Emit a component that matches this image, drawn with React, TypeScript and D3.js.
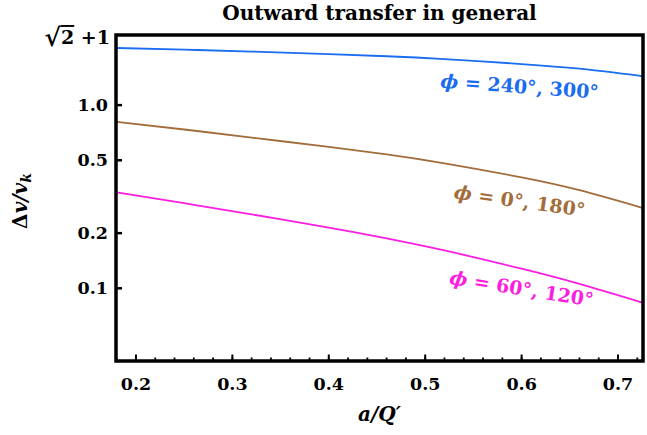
import { useEffect, useRef } from 'react'
import * as d3 from 'd3'

const W = 647
const H = 435
const M = { top: 35, right: 4, bottom: 74, left: 116 }

// a/Q' sample points
const xs = [0.18, 0.25, 0.32, 0.4, 0.46, 0.52, 0.6, 0.66, 0.725]
// Δv/v_k for each phase pair
const blueVals = [2.05, 2.008, 1.96, 1.9, 1.848, 1.782, 1.676, 1.58, 1.44]
const brownVals = [0.81, 0.736, 0.665, 0.591, 0.538, 0.481, 0.403, 0.343, 0.275]
const pinkVals = [0.334, 0.2914, 0.2533, 0.2146, 0.1874, 0.1609, 0.1279, 0.1056, 0.0836]

const xTicks = [0.2, 0.3, 0.4, 0.5, 0.6, 0.7]
const yTicks = [0.1, 0.2, 0.5, 1.0]
const yTop = Math.SQRT2 + 1

const series = [
  { vals: blueVals, col: '#1a6cf0', label: 'ϕ = 240°, 300°', lx: 0.598, ly: 1.27, rot: 4 },
  { vals: brownVals, col: '#a26d3b', label: 'ϕ = 0°, 180°', lx: 0.598, ly: 0.301, rot: 8 },
  { vals: pinkVals, col: '#fb1ee0', label: 'ϕ = 60°, 120°', lx: 0.6, ly: 0.1, rot: 9 },
]

const FONT = '"DejaVu Serif", serif'

export default function App() {
  const svgRef = useRef<SVGSVGElement | null>(null)

  useEffect(() => {
    if (!svgRef.current) return
    const svg = d3.select(svgRef.current)
    svg.selectAll('*').remove()

    const iw = W - M.left - M.right
    const ih = H - M.top - M.bottom
    const g = svg.append('g').attr('transform', `translate(${M.left},${M.top})`)

    const x = d3.scaleLinear().domain([0.1793, 0.7259]).range([0, iw])
    const y = d3.scaleLog().domain([0.0401, yTop]).range([ih, 0])

    // curves
    const line = d3.line<number>()
      .x((_, i) => x(xs[i]))
      .y(d => y(d))
      .curve(d3.curveNatural)

    series.forEach(s => {
      g.append('path').datum(s.vals).attr('d', line)
        .attr('fill', 'none').attr('stroke', s.col).attr('stroke-width', 1.8)
      g.append('text')
        .attr('transform', `translate(${x(s.lx)},${y(s.ly)}) rotate(${s.rot})`)
        .attr('text-anchor', 'middle').attr('dominant-baseline', 'central')
        .attr('fill', s.col).attr('font-family', FONT).attr('font-weight', 700)
        .attr('font-size', 19)
        .call(t => {
          t.append('tspan').attr('font-style', 'italic').text(s.label.slice(0, 1))
          t.append('tspan').text(s.label.slice(1))
        })
    })

    // x ticks (inward)
    const minor = d3.range(0.18, 0.7259, 0.02)
    g.selectAll('.xm').data(minor).join('line')
      .attr('x1', d => x(d)).attr('x2', d => x(d))
      .attr('y1', ih).attr('y2', ih - 3.5)
      .attr('stroke', '#000').attr('stroke-width', 1.8)
    g.selectAll('.xM').data(xTicks).join('line')
      .attr('x1', d => x(d)).attr('x2', d => x(d))
      .attr('y1', ih).attr('y2', ih - 6.5)
      .attr('stroke', '#000').attr('stroke-width', 2)
    g.selectAll('.xl').data(xTicks).join('text')
      .attr('x', d => x(d)).attr('y', ih + 29)
      .attr('text-anchor', 'middle')
      .attr('font-family', FONT).attr('font-weight', 700).attr('font-size', 17.5)
      .text(d => d.toFixed(1))

    // y ticks
    g.selectAll('.yM').data(yTicks).join('line')
      .attr('x1', 0).attr('x2', 6)
      .attr('y1', d => y(d)).attr('y2', d => y(d))
      .attr('stroke', '#000').attr('stroke-width', 2.5)
    g.selectAll('.yl').data(yTicks).join('text')
      .attr('x', -8).attr('y', d => y(d))
      .attr('text-anchor', 'end').attr('dominant-baseline', 'central')
      .attr('font-family', FONT).attr('font-weight', 700).attr('font-size', 17.5)
      .text(d => d.toFixed(1))

    // √2 + 1 label
    const top = g.append('text')
      .attr('x', -6).attr('y', y(yTop) + 2)
      .attr('text-anchor', 'end').attr('dominant-baseline', 'central')
      .attr('font-family', FONT).attr('font-weight', 700).attr('font-size', 19)
    top.append('tspan').attr('font-size', 25).text('√')
    top.append('tspan').style('text-decoration', 'overline').text('2')
    top.append('tspan').text(' +1')

    // frame
    g.append('rect').attr('x', 0).attr('y', 0).attr('width', iw).attr('height', ih)
      .attr('fill', 'none').attr('stroke', '#000').attr('stroke-width', 3.5)

    // title
    svg.append('text')
      .attr('x', M.left + iw / 2).attr('y', 20)
      .attr('text-anchor', 'middle')
      .attr('font-family', FONT).attr('font-weight', 700).attr('font-size', 20)
      .text('Outward transfer in general')

    // axis labels
    svg.append('text')
      .attr('x', M.left + iw / 2).attr('y', 421)
      .attr('text-anchor', 'middle')
      .attr('font-family', FONT).attr('font-weight', 700).attr('font-style', 'italic')
      .attr('font-size', 20)
      .text('a/Q′')

    const yl = svg.append('text')
      .attr('transform', `translate(27,${M.top + ih / 2 + 3}) rotate(-90)`)
      .attr('text-anchor', 'middle')
      .attr('font-family', FONT).attr('font-weight', 700).attr('font-size', 20)
    yl.append('tspan').text('Δ')
    yl.append('tspan').attr('font-style', 'italic').text('v/v')
    yl.append('tspan').attr('font-style', 'italic').attr('font-size', 14).attr('dy', 4).text('k')
  }, [])

  return (
    <div style={{ position: 'absolute', left: 0, top: 0 }}>
      <svg ref={svgRef} width={W} height={H} style={{ display: 'block', background: '#fff' }} />
    </div>
  )
}
